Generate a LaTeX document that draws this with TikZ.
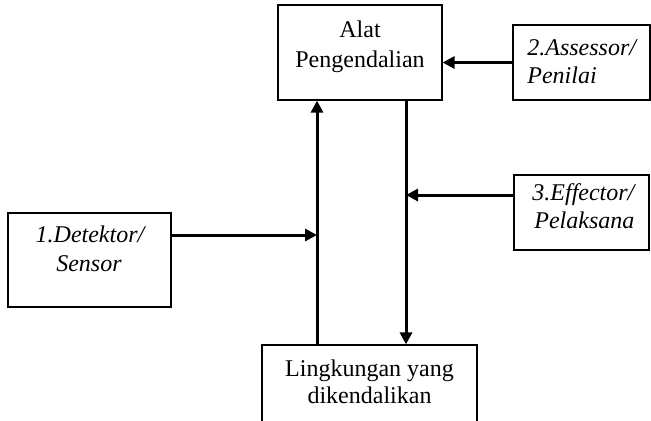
\documentclass[tikz,border=0pt]{standalone}
\usepackage{fontspec}
\setmainfont{Liberation Serif}
\usetikzlibrary{arrows.meta}
\begin{document}
\begin{tikzpicture}[x=0.5pt,y=-0.5pt,
  box/.style={draw,line width=0.6pt,rectangle,inner sep=0pt},
  arr/.style={line width=1.5pt,-{Triangle[length=6pt,width=6pt]}},
  lbl/.style={inner sep=0pt,font=\fontsize{12}{14}\selectfont},
  ilbl/.style={lbl,font=\fontsize{12}{14}\selectfont\itshape}]
\useasboundingbox (0,0) rectangle (651,420);
% boxes
\node[box,minimum width=82pt,minimum height=47.5pt] (ctrl) at (360,52.5) {};
\node[box,minimum width=68.5pt,minimum height=37.5pt] (ass) at (581.5,62.5) {};
\node[box,minimum width=81.5pt,minimum height=47pt] (det) at (89.5,260) {};
\node[box,minimum width=67.5pt,minimum height=37.5pt] (eff) at (581.5,212.5) {};
\node[box,minimum width=107.5pt,minimum height=40pt] (env) at (369.5,385) {};
% box texts
\node[lbl,anchor=base] (ctrl1) at (360,37) {Alat};
\node[lbl,anchor=base] (ctrl2) at (360,67) {Pengendalian};
\node[ilbl,anchor=base west] (ass1) at (527,55) {2.Assessor/};
\node[ilbl,anchor=base west] (ass2) at (527,83) {Penilai};
\node[ilbl,anchor=base] (det1) at (90,242) {1.Detektor/};
\node[ilbl,anchor=base] (det2) at (89,271) {Sensor};
\node[ilbl,anchor=base west] (eff1) at (532,200) {3.Effector/};
\node[ilbl,anchor=base west] (eff2) at (534,228) {Pelaksana};
\node[lbl,anchor=base] (env1) at (369.5,376) {Lingkungan yang};
\node[lbl,anchor=base] (env2) at (369.5,403) {dikendalikan};
% vertical lines between the control box and the environment
\coordinate (up) at (317,0);
\coordinate (down) at (406,0);
\draw[arr] (env.north -| up) -- (ctrl.south -| up);
\draw[arr] (ctrl.south -| down) -- (env.north -| down);
% inputs from the side boxes
\coordinate (detout) at (171,235);
\coordinate (effout) at (514,195);
\draw[arr] (ass.west) -- (ass.west -| ctrl.east);
\draw[arr] (det.east |- detout) -- (detout -| up);
\draw[arr] (eff.west |- effout) -- (effout -| down);
\end{tikzpicture}
\end{document}
